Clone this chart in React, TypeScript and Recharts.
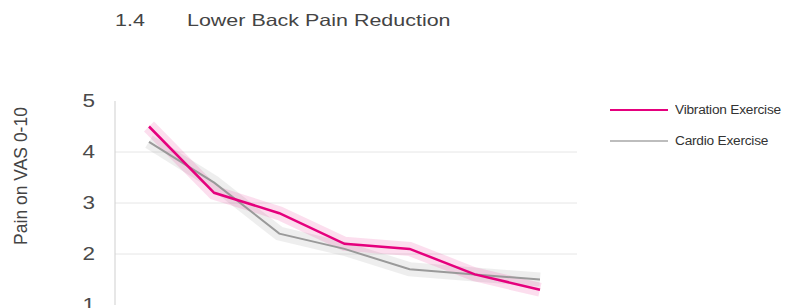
import React from "react"
import {
  LineChart,
  Line,
  XAxis,
  YAxis,
  ReferenceLine
} from "recharts"

// measurement sessions along the x axis (no tick labels shown)
const sessions = ["1", "2", "3", "4", "5", "6", "7"]
const vibration = [4.5, 3.2, 2.8, 2.2, 2.1, 1.6, 1.3]
const cardio = [4.2, 3.4, 2.4, 2.1, 1.7, 1.6, 1.5]
const yTicks = [1, 2, 3, 4, 5]
const gridValues = [2, 3, 4]

const PINK = "#e5007d"
const GREY = "#9a9a9a"
const TEXT = "#444"
const FONT = "'Liberation Sans', Arial, sans-serif"

const data = sessions.map((s, i) => ({
  session: s,
  vibration: vibration[i],
  cardio: cardio[i]
}))

// the reference is stretched sideways, so horizontal text gets widened a bit
const StretchedTick = (props: any) => {
  const { x, y, payload } = props
  return (
    <text
      transform={`translate(${x},${y}) scale(1.25,1)`}
      textAnchor="end"
      dominantBaseline="central"
      fontSize={18}
      fontFamily={FONT}
      fill="#4a4a4a"
    >
      {payload.value}
    </text>
  )
}

const legendItems = [
  { label: "Vibration Exercise", color: PINK, width: 2, top: 110 },
  { label: "Cardio Exercise", color: "#bdbdbd", width: 1.5, top: 141 }
]

export default function App() {
  return (
    <div style={{ position: "absolute", left: 0, top: 0, width: 787, height: 308, background: "#fff", overflow: "hidden", fontFamily: FONT }}>
      <div style={{ position: "absolute", left: 115, top: 11, fontSize: 16.5, color: TEXT, transform: "scaleX(1.3)", transformOrigin: "left top", whiteSpace: "nowrap" }}>
        1.4
      </div>
      <div style={{ position: "absolute", left: 187, top: 11, fontSize: 16.5, color: TEXT, transform: "scaleX(1.3)", transformOrigin: "left top", whiteSpace: "nowrap" }}>
        Lower Back Pain Reduction
      </div>
      <div style={{ position: "absolute", left: 21, top: 176, fontSize: 17.5, color: TEXT, transform: "translate(-50%,-50%) rotate(-90deg)", whiteSpace: "nowrap" }}>
        Pain on VAS 0-10
      </div>

      {legendItems.map(item => (
        <div key={item.label} style={{ position: "absolute", left: 610, top: item.top - 8, height: 16, display: "flex", alignItems: "center" }}>
          <div style={{ width: 58, height: item.width, background: item.color }} />
          <span style={{ marginLeft: 7, fontSize: 12, color: "#333", transform: "scaleX(1.14)", transformOrigin: "left center", whiteSpace: "nowrap", letterSpacing: -0.2 }}>
            {item.label}
          </span>
        </div>
      ))}

      <div style={{ position: "absolute", left: 0, top: 0 }}>
        <LineChart
          width={787}
          height={308}
          data={data}
          margin={{ top: 101, right: 210, bottom: 3, left: 0 }}
        >
          <XAxis
            dataKey="session"
            height={0}
            tick={false}
            tickLine={false}
            axisLine={{ stroke: "#cfcfcf" }}
            padding={{ left: 34, right: 37 }}
          />
          <YAxis
            type="number"
            domain={[1, 5]}
            ticks={yTicks}
            width={115}
            tickLine={false}
            tickSize={0}
            tickMargin={20}
            axisLine={{ stroke: "#cfcfcf" }}
            tick={<StretchedTick />}
            interval={0}
          />
          {gridValues.map(v => (
            <ReferenceLine key={v} y={v} stroke="#e6e6e6" strokeWidth={1} />
          ))}
          {/* soft bands behind each line */}
          <Line dataKey="cardio" stroke={GREY} strokeWidth={14} strokeOpacity={0.17} dot={false} activeDot={false} isAnimationActive={false} />
          <Line dataKey="vibration" stroke={PINK} strokeWidth={14} strokeOpacity={0.13} dot={false} activeDot={false} isAnimationActive={false} />
          <Line dataKey="cardio" stroke={GREY} strokeWidth={2} dot={false} activeDot={false} isAnimationActive={false} />
          <Line dataKey="vibration" stroke={PINK} strokeWidth={2.5} dot={false} activeDot={false} isAnimationActive={false} />
        </LineChart>
      </div>
    </div>
  )
}
